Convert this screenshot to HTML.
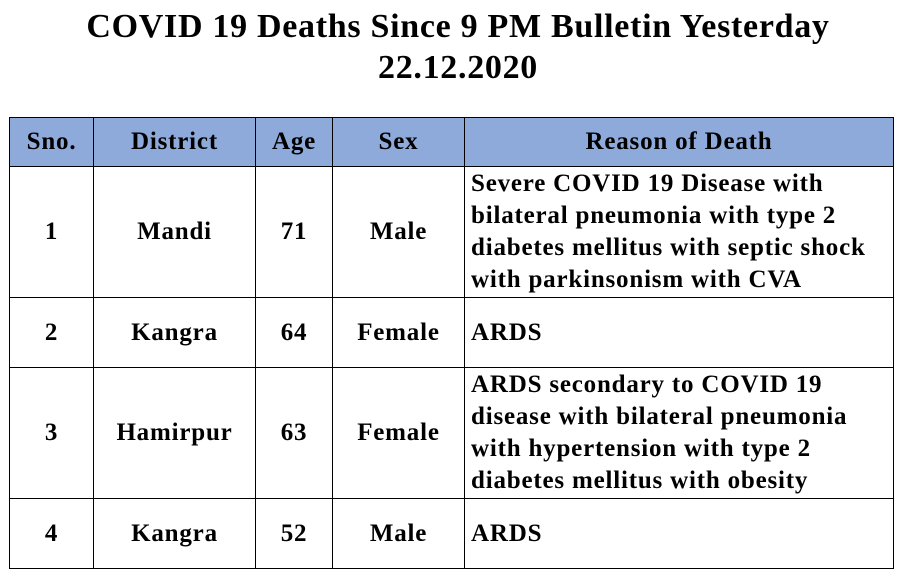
<!DOCTYPE html>
<html><head><meta charset="utf-8"><style>
body{margin:0;width:901px;height:575px;background:#fff;font-family:"Liberation Serif",serif;font-weight:bold;color:#000;position:relative;overflow:hidden}
.t{position:absolute;left:0;width:916px;text-align:center;font-size:34px;line-height:40px;letter-spacing:0.7px;white-space:nowrap}
table{position:absolute;left:9px;top:117px;border-collapse:collapse;width:885px;table-layout:fixed}
td,th{border:1.5px solid #000;font-size:25px;line-height:32px;text-align:center;padding:0 4px;letter-spacing:0.8px;white-space:nowrap;overflow:hidden}
th{background:#8eaadb;height:48px}
td.r{text-align:left;padding-left:6px}
</style></head><body>
<div class="t" style="top:7px">COVID 19 Deaths Since 9 PM Bulletin Yesterday</div>
<div class="t" style="top:48px">22.12.2020</div>
<table>
<colgroup><col style="width:84px"><col style="width:162px"><col style="width:77px"><col style="width:132px"><col></colgroup>
<tr><th>Sno.</th><th>District</th><th>Age</th><th>Sex</th><th>Reason of Death</th></tr>
<tr style="height:131px"><td>1</td><td>Mandi</td><td>71</td><td>Male</td><td class="r">Severe COVID 19 Disease with<br>bilateral pneumonia with type 2<br>diabetes mellitus with septic shock<br>with parkinsonism with CVA</td></tr>
<tr style="height:70px"><td>2</td><td>Kangra</td><td>64</td><td>Female</td><td class="r">ARDS</td></tr>
<tr style="height:131px"><td>3</td><td>Hamirpur</td><td>63</td><td>Female</td><td class="r">ARDS secondary to COVID 19<br>disease with bilateral pneumonia<br>with hypertension with type 2<br>diabetes mellitus with obesity</td></tr>
<tr style="height:70px"><td>4</td><td>Kangra</td><td>52</td><td>Male</td><td class="r">ARDS</td></tr>
</table>
</body></html>
